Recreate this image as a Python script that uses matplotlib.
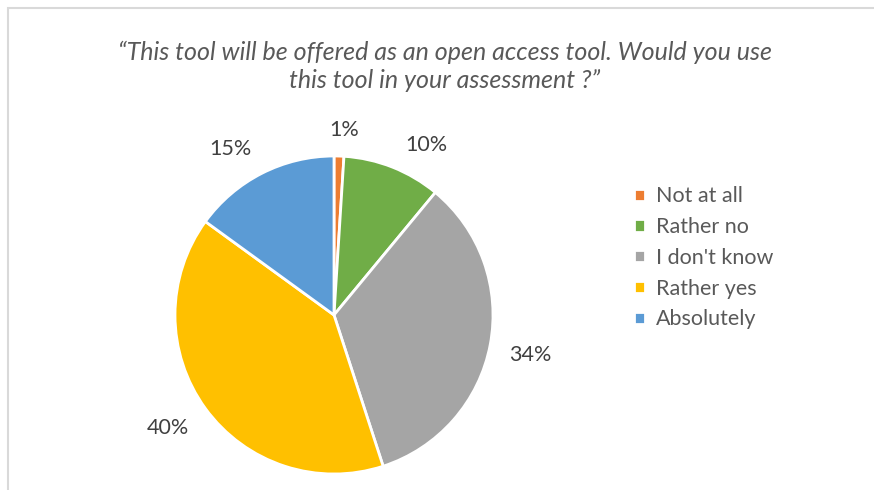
import numpy as np
import matplotlib.pyplot as plt
from matplotlib.patches import Rectangle

labels = ["Not at all", "Rather no", "I don't know", "Rather yes", "Absolutely"]
values = [1, 10, 34, 40, 15]
colors = ["#ed7d31", "#70ad47", "#a5a5a5", "#ffc000", "#5b9bd5"]
title = "\u201cThis tool will be offered as an open access tool. Would you use\nthis tool in your assessment ?\u201d"

# label placement (distance in radii, angle nudge in degrees), like excel best fit
lab_dist = [1.165, 1.22, 1.26, 1.26, 1.23]
lab_nudge = [-1.5, -7, -0.7, -1.8, 5]

plt.rcParams['font.family'] = ['Lato', 'DejaVu Sans']

fig = plt.figure(figsize=(8.74, 4.90), dpi=100)

# chart frame
fig.patches.append(Rectangle((8/874, -0.1), 1.2, 1 - 8/490 + 0.1, transform=fig.transFigure,
                             fill=False, edgecolor="#d9d9d9", linewidth=1.5))

fig.text(445/874, 1 - 66/490, title, ha='center', va='center', fontsize=18,
         style='italic', color='#595959', linespacing=1.25)

ax = fig.add_axes([175/874, 16/490, 318/874, 318/490])
wedges, texts = ax.pie(values, colors=colors, startangle=90, counterclock=False,
                       wedgeprops=dict(edgecolor='white', linewidth=2))
for w, v, d, nd in zip(wedges, values, lab_dist, lab_nudge):
    ang = np.deg2rad((w.theta1 + w.theta2) / 2 + nd)
    ax.text(d * np.cos(ang), d * np.sin(ang), f"{v}%", ha='center', va='center',
            fontsize=15.5, color='#404040')
ax.set_xlim(-1, 1)
ax.set_ylim(-1, 1)
ax.set_aspect('equal')

fig.legend(wedges, labels, loc='upper left', bbox_to_anchor=(615/874, 1 - 167/490),
           frameon=False, fontsize=15.5, labelcolor='#595959',
           handlelength=0.5, handleheight=0.5, handletextpad=0.5, labelspacing=0.5)

fig.savefig("out.png", dpi=100)
